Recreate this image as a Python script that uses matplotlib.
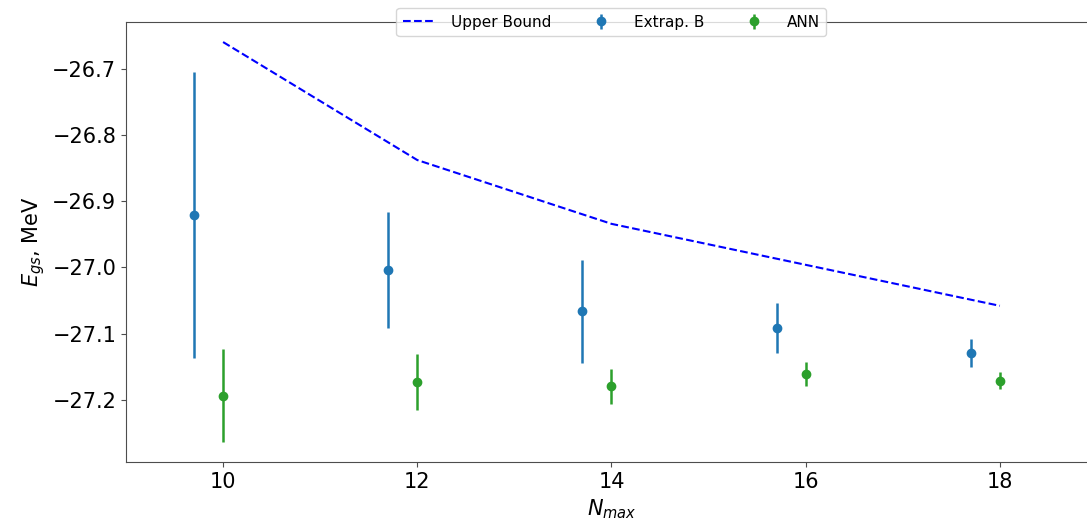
import numpy as np
import matplotlib
matplotlib.use('Agg')
import matplotlib.pyplot as plt

# upper bound (variational)
nmax_ub = [10, 12, 14, 16, 18]
e_ub = [-26.659, -26.8375, -26.934, -26.996, -27.058]

# extrapolation B, drawn slightly left of each Nmax
nmax_b = [9.7, 11.7, 13.7, 15.7, 17.7]
e_b = [-26.921, -27.004, -27.066, -27.091, -27.129]
err_b = [0.216, 0.088, 0.078, 0.038, 0.021]

# ANN predictions
nmax_ann = [10, 12, 14, 16, 18]
e_ann = [-27.194, -27.173, -27.180, -27.161, -27.171]
err_ann = [0.070, 0.042, 0.026, 0.018, 0.013]

fig = plt.figure(figsize=(10.87, 5.25), dpi=100)
ax = fig.add_axes([0.1159, 0.12, 0.8933, 0.838])

ax.plot(nmax_ub, e_ub, 'b--', label='Upper Bound')
ax.errorbar(nmax_b, e_b, yerr=err_b, fmt='o', color='tab:blue', markersize=6,
            elinewidth=1.8, label='Extrap. B')
ax.errorbar(nmax_ann, e_ann, yerr=err_ann, fmt='o', color='tab:green', markersize=6,
            elinewidth=1.8, label='ANN')

ax.set_xlim(9, 19)
ax.set_xticks([10, 12, 14, 16, 18])
ax.set_yticks([-26.7, -26.8, -26.9, -27.0, -27.1, -27.2])
ax.tick_params(labelsize=15, color='0.3')
for sp in ax.spines.values():
    sp.set_color('0.3')
ax.set_xlabel('$N_{max}$', fontsize=15)
ax.set_ylabel('$E_{gs}$, MeV', fontsize=15)

ax.legend(loc='center', bbox_to_anchor=(0.5, 1.0), ncol=3, fontsize=11,
          columnspacing=2.2, handletextpad=1.2, handlelength=2.0)

fig.savefig('out.png', dpi=100)
